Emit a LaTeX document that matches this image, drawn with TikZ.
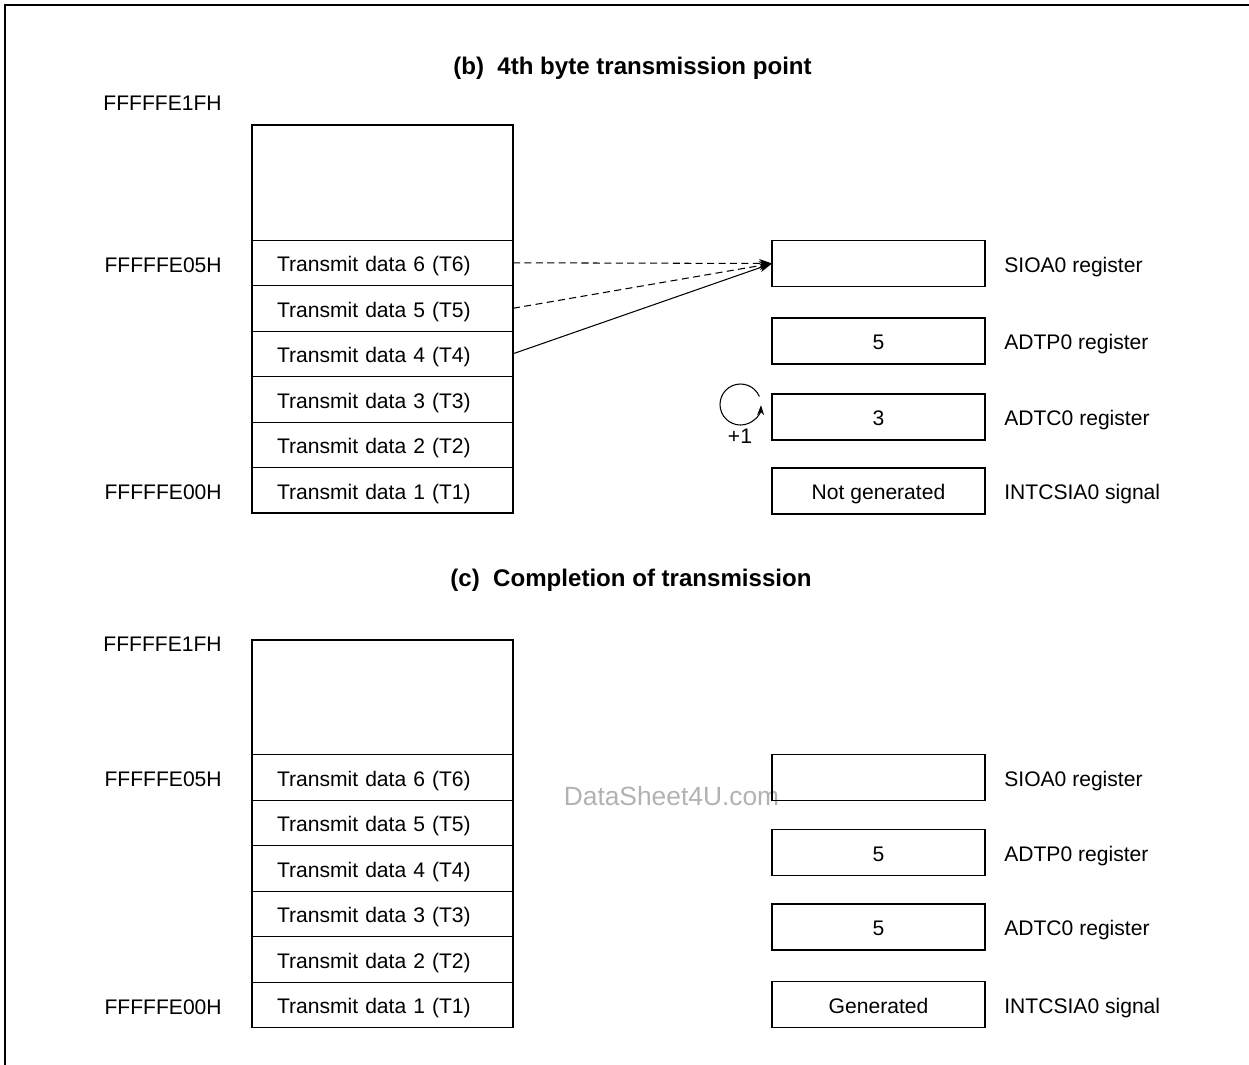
\documentclass[tikz,border=0pt]{standalone}
\usepackage{fontspec}
\setmainfont{Liberation Sans}
\usetikzlibrary{positioning,arrows.meta}

\begin{document}
\begin{tikzpicture}[
    x=0.02cm, y=-0.02cm,
    font=\fontsize{12}{14}\selectfont,
    cell/.style={draw=black, line width=0.5pt, outer sep=0pt,
      minimum width=5.22cm, minimum height=0.91cm,
      inner xsep=0.5cm, inner ysep=0pt, text width=4.22cm, align=left,
      text height=12.7pt, text depth=2.5pt},
    blank/.style={minimum width=5.22cm, minimum height=2.3cm,
      inner sep=0pt, outer sep=0pt},
    frame/.style={draw=black, line width=1.1pt},
    reg/.style={draw=black, line width=1.1pt, outer sep=0pt,
      minimum width=4.26cm, minimum height=0.92cm, inner sep=0pt,
      text height=12.2pt, text depth=2.5pt},
    lbl/.style={anchor=west, inner sep=0pt, text height=12.7pt, text depth=2.5pt},
    addr/.style={anchor=east, inner sep=0pt, text height=10.8pt, text depth=0pt},
    ttl/.style={font=\fontsize{13.7}{16}\selectfont\bfseries, inner sep=0pt},
    wm/.style={font=\fontsize{15}{18}\selectfont, text=black!30, inner sep=0pt},
    arr/.style={-{Stealth[length=2.6mm, width=1.8mm]}, line width=0.6pt},
    cyc/.style={-{Stealth[length=2mm, width=1.4mm]}, line width=0.6pt},
  ]
    \useasboundingbox (0,0) rectangle (1249,1065);
    \draw[line width=1.1pt] (5,1065) -- (5,5) -- (1249,5);

    % (b) 4th byte transmission point
    \node[ttl] (bTitle) at (632.5,68) {(b)\ \ 4th byte transmission point};
    \node[cell] (b1) at (382.5,490.25) {Transmit data 1 (T1)};
    \foreach \i [count=\j from 1] in {2,...,6}
      \node[cell, above=0pt of b\j] (b\i) {Transmit data \i{} (T\i)};
    \node[blank, above=0pt of b6] (bTop) {};
    \draw[frame] (bTop.north west) rectangle (b1.south east);
    \node[addr] (bA1F) at ([xshift=-0.6cm, yshift=0.48cm]bTop.north west) {FFFFFE1FH};
    \node[addr, left=0.6cm of b6] (bA05) {FFFFFE05H};
    \node[addr, left=0.6cm of b1] (bA00) {FFFFFE00H};

    \node[reg] (bSio) at (878.5,263.5) {};
    \node[reg] (bAdtp) at (878.5,341) {5};
    \node[reg] (bAdtc) at (878.5,417) {3};
    \node[reg] (bInt) at (878.5,491) {Not generated};
    \node[lbl, right=0.38cm of bSio] (bSioL) {SIOA0 register};
    \node[lbl, right=0.38cm of bAdtp] (bAdtpL) {ADTP0 register};
    \node[lbl, right=0.38cm of bAdtc] (bAdtcL) {ADTC0 register};
    \node[lbl, right=0.38cm of bInt] (bIntL) {INTCSIA0 signal};

    \draw[arr, dash pattern=on 4pt off 2.5pt] (b6.east) -- (bSio.west);
    \draw[arr, dash pattern=on 4pt off 2.5pt] (b5.east) -- (bSio.west);
    \draw[arr] (b4.east) -- (bSio.west);

    \coordinate (bCyc) at (740.5,404.5);
    \draw[cyc] ([shift={(23:0.41cm)}]bCyc) arc[start angle=23, end angle=358, radius=0.41cm];
    \node[inner sep=0pt] (bInc) at (740,436) {+1};

    % (c) Completion of transmission
    \node[wm] (wmark) at (671.5,796) {DataSheet4U.com};
    \node[ttl] (cTitle) at (631,580) {(c)\ \ Completion of transmission};
    \node[cell] (c1) at (382.5,1004.75) {Transmit data 1 (T1)};
    \foreach \i [count=\j from 1] in {2,...,6}
      \node[cell, above=0pt of c\j] (c\i) {Transmit data \i{} (T\i)};
    \node[blank, above=0pt of c6] (cTop) {};
    \draw[frame] (cTop.north west) rectangle (c1.south east);
    \node[addr] (cA1F) at ([xshift=-0.6cm, yshift=-0.04cm]cTop.north west) {FFFFFE1FH};
    \node[addr, left=0.6cm of c6] (cA05) {FFFFFE05H};
    \node[addr, left=0.6cm of c1] (cA00) {FFFFFE00H};

    \node[reg] (cSio) at (878.5,777.5) {};
    \node[reg] (cAdtp) at (878.5,852.5) {5};
    \node[reg] (cAdtc) at (878.5,927) {5};
    \node[reg] (cInt) at (878.5,1004.5) {Generated};
    \node[lbl, right=0.38cm of cSio] (cSioL) {SIOA0 register};
    \node[lbl, right=0.38cm of cAdtp] (cAdtpL) {ADTP0 register};
    \node[lbl, right=0.38cm of cAdtc] (cAdtcL) {ADTC0 register};
    \node[lbl, right=0.38cm of cInt] (cIntL) {INTCSIA0 signal};
\end{tikzpicture}
\end{document}
